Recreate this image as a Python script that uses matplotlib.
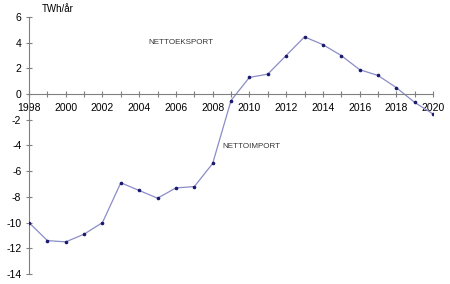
import numpy as np
import matplotlib
matplotlib.use("Agg")
import matplotlib.pyplot as plt

plt.rcParams['font.family'] = ['Liberation Sans', 'DejaVu Sans']
plt.rcParams['axes.unicode_minus'] = False

aar = list(range(1998, 2021))
netto = [-10.0, -11.4, -11.5, -10.9, -10.0, -6.9, -7.5, -8.1, -7.3, -7.2, -5.4,
         -0.5, 1.3, 1.55, 3.0, 4.45, 3.85, 3.0, 1.9, 1.45, 0.5, -0.65, -1.55]

fig = plt.figure(figsize=(4.5, 2.84), dpi=100)
ax = fig.add_axes([0.0644, 0.0352, 0.898, 0.905])

ax.plot(aar, netto, color='#8c8cc8', lw=0.9, zorder=2)
ax.plot(aar, netto, ls='none', marker='o', ms=1.6, color='#1a1a6e', zorder=3)

ax.set_xlim(1998, 2020)
ax.set_ylim(-14, 6)

for s in ['top', 'right']:
    ax.spines[s].set_visible(False)
ax.spines['bottom'].set_position(('data', 0))
ax.spines['left'].set_color('#808080')
ax.spines['bottom'].set_color('#808080')

ax.set_xticks(range(1998, 2021, 2))
ax.set_xticks(range(1998, 2021), minor=True)
ax.set_yticks(range(-14, 7, 2))
ax.tick_params(axis='both', which='both', direction='inout', color='#808080',
               labelsize=7.5, length=5, width=0.8)
ax.tick_params(axis='x', which='major', pad=4)
ax.tick_params(axis='y', pad=3)

ax.text(1998.7, 6.65, 'TWh/år', fontsize=7, ha='left', va='center', clip_on=False)
ax.text(2006.3, 4.05, 'NETTOEKSPORT', fontsize=5.8, ha='center', va='center', color='#333333')
ax.text(2010.1, -4.1, 'NETTOIMPORT', fontsize=5.8, ha='center', va='center', color='#333333')

fig.savefig('out.png', dpi=100)
